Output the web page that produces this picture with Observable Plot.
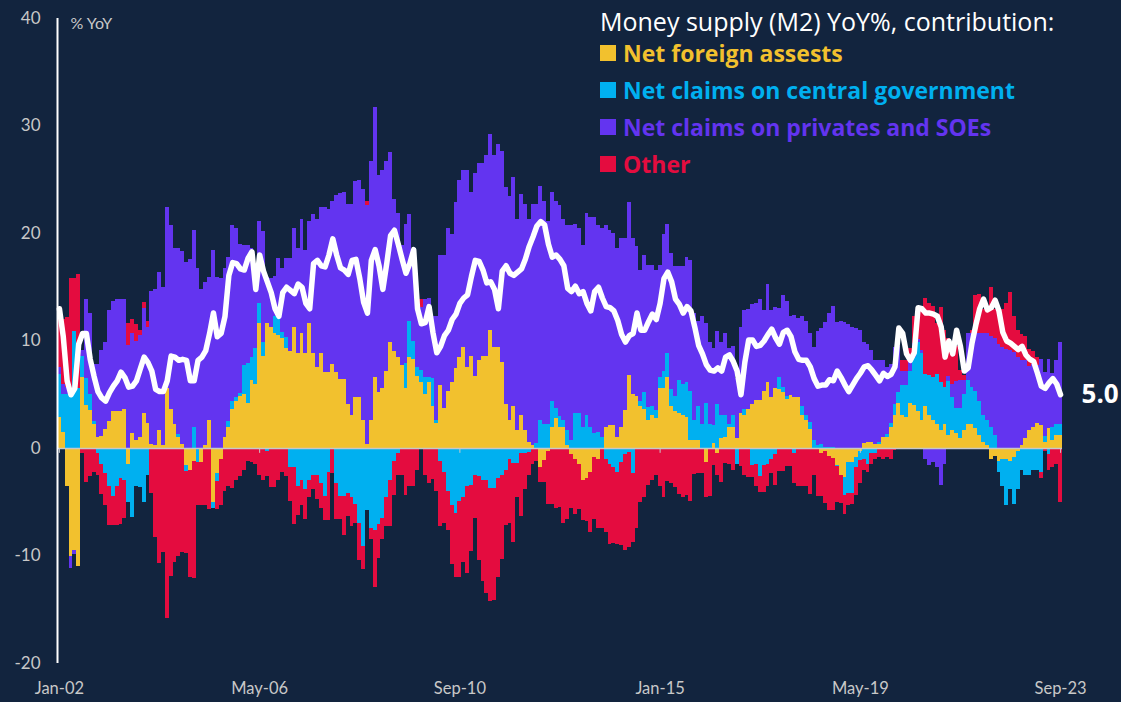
<!DOCTYPE html>
<html><head><meta charset="utf-8">
<script src="https://cdn.jsdelivr.net/npm/d3@7"></script>
<script src="https://cdn.jsdelivr.net/npm/@observablehq/plot@0.6"></script>
<style>
body{margin:0;background:#12243e;}
#wrap{position:relative;width:1121px;height:702px;font-family:"Open Sans",Lato,sans-serif;overflow:hidden;}
#legend{position:absolute;left:600px;top:8px;color:#fff;}
#legend .title{font-size:25px;line-height:26px;white-space:nowrap;}
#legend .item{display:flex;align-items:center;height:37px;font-weight:700;font-size:23px;white-space:nowrap;}
#legend .sw{width:16px;height:16px;margin-right:7px;}
</style></head>
<body><div id="wrap"><div id="chart"></div><div id="legend"></div></div>
<script>
// Categories: monthly, Jan-02 .. Sep-23 (261 months)
const months = d3.range(261);
const tickMonths = [0, 52, 104, 156, 208, 260];
const tickLabels = ["Jan-02", "May-06", "Sep-10", "Jan-15", "May-19", "Sep-23"];
const yTicks = [-20, -10, 0, 10, 20, 30, 40];
const series = ["Net foreign assests", "Net claims on central government", "Net claims on privates and SOEs", "Other"];
const colors = ["#F2C12E", "#00B0F0", "#6334F0", "#E40C3F"];

const nfa = [
2.9,1.5,-3.5,-10,-9.5,-11,6.6,4.0,3.5,2.2,
1.0,1.1,1.8,2.5,3.4,3.4,3.4,3.6,-1.5,1.4,
0.7,1.0,3.3,2.3,0.4,0.3,1.7,0.3,5.6,3.6,
2.2,1.0,0.4,-1.6,-2.0,-1.2,0,-1.3,0.3,2.6,
-5.0,-2.3,-1.0,1.0,2.0,3.6,4.4,4.8,5.0,4.2,
6.3,6.0,11.6,8.6,11.6,11.3,10.7,10.5,10.2,9.3,
9.0,11.3,8.8,10.7,8.8,11.6,8.8,7.5,8.8,7.1,
7.1,7.8,7.1,6.4,6.4,4.1,3.1,4.7,4.7,2.6,
0.4,2.6,6.6,5.2,5.6,7.2,9.9,9.0,8.5,7.7,
5.6,8.5,8.3,6.7,6.1,5.0,6.1,3.9,2.3,5.9,
3.7,5.3,6.1,7.4,8.5,9.4,7.5,8.6,6.7,8.2,
8.6,8.6,11.0,9.4,9.4,8.0,4.1,2.6,3.9,1.7,
3.1,1.7,0.6,0.3,0,-1.8,-1.1,-0.3,2.0,2.8,
2.0,2.0,0.3,-0.6,-1.0,-1.5,-3.0,-2.8,-2.2,-0.8,
-1.0,0,2.0,2.1,2.1,1.0,2.0,3.5,6.8,5.0,
4.8,3.9,3.6,2.6,3.1,2.8,5.6,5.6,6.6,3.9,
3.4,3.3,3.1,2.9,0.7,0.7,0.7,0,-1.3,0,
0.5,-0.5,0.9,1.0,2.0,2.0,0.9,3.3,3.1,3.6,
4.1,4.5,4.5,5.3,6.1,4.7,5.6,5.5,5.2,4.6,
4.9,4.7,4.7,3.1,2.6,1.8,0,0,-0.5,-0.3,
-0.7,-0.9,-1.6,-2.5,-2.7,-1.3,-1.3,-0.8,-0.3,0.5,
0.6,0.6,0.4,0.4,1.0,1.0,2.0,3.1,4.2,3.1,
2.9,4.2,4.0,3.4,2.6,3.9,3.1,2.6,2.2,1.7,
2.2,1.2,1.7,1.4,0.9,1.7,2.2,2.2,1.9,1.2,
0.6,0.3,-1.0,-0.7,-1.2,-1.0,-1.0,-1.2,-0.8,-0.3,
0.3,0.9,1.7,2.0,2.3,2.1,0.6,1.9,0.7,1.2,
1.2];

const gov = [
4.0,3.5,5.0,4.7,10.9,5.6,2.0,2.5,1.5,0.3,
-0.5,-1.5,-2.3,-3.5,-4.5,-3.5,-2.8,-3.0,-3.5,-6.4,
-3.5,-3.6,-5.0,-2.5,0,0,0,0,0,0,
0,0.3,0,-0.5,0,2.0,-1.3,0,0,0,
-0.6,-0.8,0,0,0.5,0.8,0.3,0.3,2.7,3.7,
2.2,3.3,1.9,1.3,-0.3,0,1.6,1.7,0.6,1.0,
-1.8,-1.8,-3.5,-3.0,-3.8,-3.0,-2.5,-2.5,-3.3,-4.5,
-2.2,0,-3.3,-4.5,-4.5,-4.2,-4.6,-5.2,-7.0,-9.1,
-5.8,-7.4,-7.6,-7.1,-6.5,-4.6,-3.0,-1.2,-0.5,0,
2.3,3.3,1.7,0.8,1.2,1.6,0.5,2.6,0.3,-1.2,
-2.2,-4.0,-5.3,-6.0,-4.9,-4.6,-3.5,-3.4,-2.5,-2.6,
-3.0,-3.0,-3.7,-3.7,-2.8,-2.5,-2.0,-1.0,-1.4,-1.4,
-0.5,-0.5,-0.4,0,0.5,2.6,2.2,2.2,2.4,0.9,
1.0,0.6,1.4,0.7,3.3,3.3,2.0,3.1,2.0,1.4,
1.5,1.0,-1.0,-1.5,-1.8,-2.2,-1.3,-0.6,-0.4,-2.3,
0,0.5,1.6,1.2,0.8,0.7,1.0,1.6,2.2,1.6,
1.4,3.0,2.9,3.2,4.6,1.9,3.2,2.2,4.2,2.2,
1.6,4.1,2.2,2.1,0.2,1.1,-1.5,0,0.5,0,
-1.6,-1.5,-2.6,-1.6,-1.5,-1.0,-0.6,1.1,0.5,0.2,
0,-0.5,0,0.8,0.5,0.6,0.7,0.3,0.4,0.1,
0.1,0.1,-0.1,0,-1.7,-2.9,-2.9,-1.0,-0.8,-1.0,
-1.5,-0.5,-0.5,0.2,0,0.3,0.3,1.0,1.0,2.8,
3.0,3.0,4.5,6.5,6.2,3.0,3.7,4.0,4.7,4.4,
3.5,5.0,3.0,2.3,2.8,3.3,4.1,3.5,3.4,3.2,
2.5,2.3,2.0,1.2,-1.0,-2.5,-4.3,-2.6,-4.4,-3.5,
-2.0,-2.5,-2.5,-2.0,-2.0,-2.2,0.5,-0.6,1.3,1.0,
1.0];

const priv = [
0.6,1.0,0.7,-1.2,-0.4,0,0.5,7.4,7.6,5.3,
6.8,8.0,8.1,10.3,10.3,10.5,10.5,10.3,9.6,9.3,
9.3,9.5,9.7,9.0,14.2,14.5,14.7,14.7,16.8,17.1,
16.4,17.3,17.9,17.3,17.6,18.3,16.7,14.8,15.1,13.3,
18.4,15.9,15.8,15.7,15.3,16.3,15.8,13.9,11.2,11.0,
10.1,6.2,7.6,10.3,4.3,4.5,3.7,5.5,5.9,7.4,
8.7,9.2,9.8,10.6,9.6,9.5,13.0,13.8,13.6,15.3,
15.1,15.2,16.4,17.3,17.4,18.6,19.6,20.1,20.2,21.5,
22.2,24.1,25.1,20.2,20.3,19.5,17.6,14.2,13.4,11.2,
12.9,10.0,8.0,6.4,5.8,7.3,7.4,5.8,9.7,12.1,
14.3,15.2,13.8,15.5,16.4,16.5,18.4,15.2,18.9,18.3,
17.9,18.7,18.2,17.9,18.9,19.6,20.2,20.8,21.3,19.6,
20.5,21.0,20.7,22.4,22.2,21.8,20.8,18.9,19.4,19.3,
19.6,18.7,19.0,20.0,17.5,17.2,16.9,18.8,19.5,20.1,
19.2,19.5,18.7,18.2,17.9,17.6,17.5,16.0,16.1,14.5,
14.0,12.2,12.8,13.2,13.1,13.1,10.4,12.7,12.0,12.6,
12.1,10.6,10.9,11.7,12.2,10.0,7.9,10.1,7.4,7.7,
7.2,6.8,6.8,7.6,7.1,6.4,5.6,8.0,9.2,9.3,
9.3,9.0,9.4,7.5,9.2,8.1,7.5,6.4,8.5,8.9,
7.4,7.7,7.4,8.4,8.7,8.3,8.7,10.6,10.8,11.6,
12.5,13.1,11.7,11.8,11.7,11.5,11.3,11.2,11.0,9.4,
9.1,8.5,7.8,7.6,7.2,6.2,5.5,5.3,4.3,1.3,
1.3,1.1,1.3,0.2,0.3,-1.0,-1.6,-1.3,-1.8,-3.4,
-1.5,0.5,1.3,2.5,2.6,1.3,4.4,5.0,5.4,6.3,
7.6,8.1,8.4,9.0,9.7,9.4,9.2,9.1,8.9,8.5,
7.9,7.3,5.9,5.8,5.4,6.2,6.0,6.4,5.0,6.0,
7.7];

const other = [
5.0,6.0,6.5,11.1,4.9,10.6,-0.5,-3.2,-2.6,-2.2,
-2.0,-2.8,-3.0,-3.7,-2.7,-3.7,-4.3,-3.5,2.0,1.3,
1.5,0.5,0.6,0.5,-4.2,-8.3,-10.7,-9.7,-15.8,-11.9,
-10.6,-10.0,-9.7,-7.7,-10.0,-10.9,-4.0,-4.0,-5.3,-5.7,
0,-2.6,-4.3,-4.0,-3.5,-3.7,-3.0,-2.6,-2.0,-1.2,
-1.3,-1.5,-2.5,-3.0,-2.3,-3.6,-3.6,-3.0,-2.2,-2.6,
-3.1,-5.3,-2.7,-2.3,-2.8,-1.6,-1.3,-2.2,-2.3,-2.2,
-4.5,-2.3,-3.3,-2.1,-3.6,-2.1,-2.7,-1.8,-3.4,-2.2,
0.4,-1.1,-5.3,-3.1,-2.0,-2.7,-4.3,-3.2,-2.0,-2.5,
-4.4,-3.5,-3.5,-2.0,0.8,-2.5,-3.3,-2.9,-4.0,-6.1,
-4.8,-3.6,-5.5,-6.0,-7.1,-6.0,-8.1,-6.2,-4.0,-7.8,
-9.4,-10.5,-10.5,-10.4,-9.2,-7.8,-5.2,-6.0,-7.3,-3.2,
-5.8,-3.3,-2.1,-1.5,-1.2,-1.4,-2.1,-4.9,-5.2,-5.6,
-5.5,-7.0,-6.6,-5.0,-5.1,-4.2,-3.7,-4.0,-5.6,-5.8,
-6.4,-7.4,-6.8,-7.4,-7.0,-6.7,-7.7,-8.9,-8.8,-6.4,
-7.4,-5.0,-4.6,-3.4,-3.0,-2.5,-3.5,-4.6,-3.1,-3.3,
-3.6,-4.3,-4.6,-4.4,-4.9,-2.4,-2.3,-2.3,-3.3,-4.5,
-1.6,-2.0,-3.2,-1.4,-1.5,-2.0,0,-1.7,-2.5,-2.7,
-1.1,-2.0,-1.5,-2.5,-2.0,-1.3,-2.8,-2.1,-2.1,-1.7,
-1.7,-2.8,-3.5,-3.5,-3.5,-4.3,-2.5,-4.5,-4.0,-4.8,
-5.1,-4.9,-3.3,-2.6,-1.7,-1.1,-1.0,-2.6,-2.2,-1.0,
-0.7,-1.0,-0.5,-0.8,-1.0,-0.8,-1.0,-0.2,0,1.0,
1.0,1.0,2.5,2.3,4.1,7.1,6.7,6.6,4.7,7.0,
5.3,3.5,3.0,3.3,1.0,0.5,0,0.3,3.5,3.6,
2.2,2.2,4.6,2.7,3.0,3.5,4.3,5.4,3.4,2.5,
2.4,2.2,1.6,1.2,0.8,-0.6,-0.3,-1.4,-1.8,-1.5,
-5.0];

const m2 = [
13.0,10.4,6.3,5.0,5.6,9.7,10.7,10.7,8.3,6.7,
5.3,4.7,4.4,5.2,5.8,6.3,7.1,6.6,5.7,5.8,
6.3,7.4,8.5,8.0,7.2,5.5,5.3,5.3,6.3,8.6,
8.5,8.2,8.3,8.2,6.3,6.3,8.2,8.5,9.1,10.7,
12.6,10.4,10.7,12.3,16.1,17.3,17.2,16.7,16.6,17.7,
18.3,14.8,18.0,16.5,15.5,14.5,13.0,12.3,14.5,15.0,
14.7,14.4,15.3,15.0,13.5,13.0,17.2,17.5,17.0,16.9,
18.0,19.5,18.0,16.8,16.6,16.2,17.5,17.6,15.8,13.6,
12.6,17.5,18.5,17.0,14.8,17.2,19.8,20.3,19.0,17.6,
16.3,17.2,18.5,13.0,11.6,11.7,13.2,10.8,8.9,9.5,
10.5,11.0,12.0,12.5,13.5,14.0,14.3,16.0,17.5,17.4,
16.6,15.4,15.5,14.8,13.0,16.5,17.0,16.3,16.1,16.4,
16.7,17.6,18.8,19.7,20.7,21.1,20.8,19.0,17.8,18.0,
17.6,17.0,14.9,14.6,15.1,14.4,14.6,13.5,12.8,14.6,
15.0,14.0,13.2,13.1,12.8,11.9,10.6,9.9,10.5,10.7,
12.6,11.0,11.0,11.8,12.5,12.0,13.5,15.8,16.4,15.5,
13.9,13.4,12.6,13.2,12.8,11.3,9.6,8.8,7.8,7.3,
7.2,7.5,7.2,8.5,8.7,8.1,7.2,5.0,8.0,10.1,
10.1,9.5,9.6,10.0,10.6,11.1,10.3,9.7,10.8,11.0,
10.4,9.0,8.3,8.2,8.2,7.6,6.5,5.8,5.9,5.9,
6.4,6.3,7.2,6.6,5.9,5.3,5.9,6.5,7.0,7.6,
7.7,7.3,6.8,6.3,7.0,6.7,6.9,7.6,11.2,10.7,
8.8,8.2,8.9,13.1,13.0,12.6,12.6,12.5,12.3,11.3,
8.5,10.0,8.8,11.0,9.5,7.2,7.5,9.8,11.5,13.0,
13.9,12.9,13.1,13.8,12.8,10.8,10.0,9.8,9.5,9.2,
9.5,8.7,8.3,8.1,7.0,5.8,5.6,6.1,6.5,6.0,
5.0];

const cols = [nfa, gov, priv, other];
const data = months.flatMap(i => series.map((s, k) => ({i, i2: i + 1, s, v: cols[k][i]})));
const last = months.length - 1;

const chart = Plot.plot({
  width: 1121, height: 702,
  marginLeft: 57, marginRight: 59, marginTop: 18, marginBottom: 39,
  style: {background: "transparent", color: "#c8c8c8", fontFamily: "Lato, 'Open Sans', sans-serif"},
  x: {domain: [0, 261]},
  y: {domain: [-20, 40]},
  color: {domain: series, range: colors},
  marks: [
    Plot.rectY(data, {x1: "i", x2: "i2", y: "v", fill: "s", shapeRendering: "crispEdges"}),
    Plot.ruleY([0], {stroke: "#c8c8c8", strokeWidth: 1.5}),
    Plot.ruleX(tickMonths, {x: d => d + 0.5, y1: 0, y2: -0.45, stroke: "#c8c8c8"}),
    Plot.ruleX([0], {stroke: "#ffffff", strokeWidth: 2}),
    Plot.line(months, {x: i => i + 0.5, y: i => m2[i], stroke: "#ffffff", strokeWidth: 5.5, strokeLinejoin: "round", strokeLinecap: "round"}),
    Plot.text([last], {x: i => i + 0.5, y: i => m2[i], text: i => m2[i].toFixed(1), dx: 21, textAnchor: "start", fill: "#ffffff", fontWeight: "bold", fontSize: 26, fontFamily: "'Open Sans', sans-serif"}),
    Plot.axisY(yTicks, {tickSize: 0, tickPadding: 17, fontSize: 17, label: null, tickFormat: d => String(d)}),
    Plot.axisX(tickMonths.map(d => d + 0.5), {tickSize: 0, tickPadding: 19, fontSize: 16.5, label: null,
      tickFormat: d => tickLabels[tickMonths.indexOf(d - 0.5)]}),
    Plot.text(["% YoY"], {frameAnchor: "top-left", dx: 13, dy: -1, fontSize: 16, fill: "#c8c8c8", textAnchor: "start"})
  ]
});
document.getElementById("chart").appendChild(chart);

const legend = document.getElementById("legend");
const t = document.createElement("div");
t.className = "title";
t.textContent = "Money supply (M2) YoY%, contribution:";
legend.appendChild(t);
series.forEach((s, k) => {
  const row = document.createElement("div");
  row.className = "item";
  row.style.color = colors[k];
  const sw = document.createElement("span");
  sw.className = "sw";
  sw.style.background = colors[k];
  row.appendChild(sw);
  row.appendChild(document.createTextNode(s));
  legend.appendChild(row);
});
</script></body></html>
